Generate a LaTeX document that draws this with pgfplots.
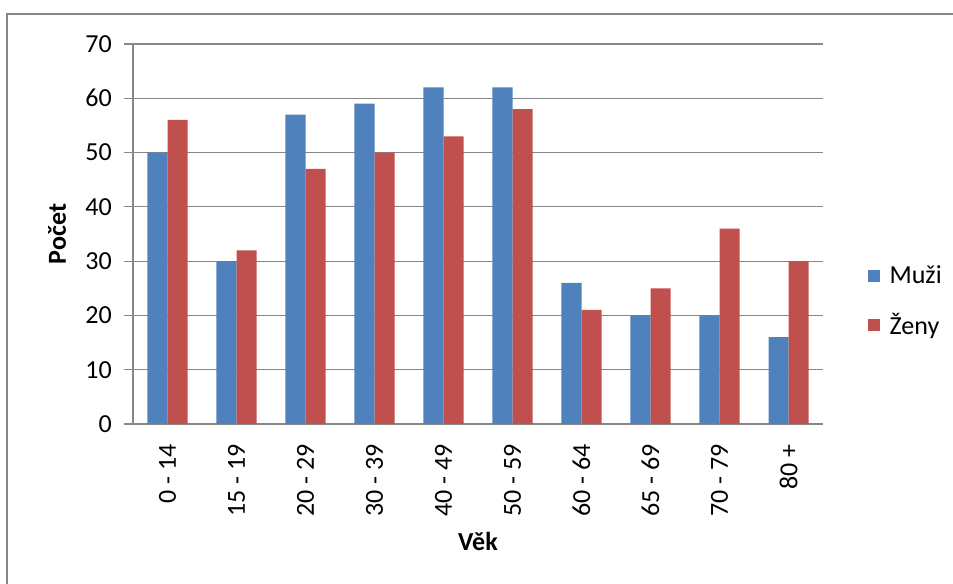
\documentclass[border=0pt]{standalone}
\usepackage{fontspec}
\setmainfont{Carlito}
\usepackage{pgfplots}
\pgfplotsset{compat=1.18}
\definecolor{muzi}{HTML}{4F81BD}
\definecolor{zeny}{HTML}{C0504D}
\definecolor{gridc}{HTML}{868686}
\newcommand{\fs}{\fontsize{19.5}{23}\selectfont}
\begin{document}
\begin{tikzpicture}
\useasboundingbox (0,0) rectangle (714.75pt,438pt);
\draw[gridc, line width=1.5pt] (5.25pt,0) -- (5.25pt,427.5pt) -- (714.75pt,427.5pt);
\begin{axis}[
  at={(99.75pt,120pt)}, anchor=south west,
  scale only axis, width=517.5pt, height=285pt,
  ybar=0pt, bar width=0.29,
  xmin=-0.5, xmax=9.5, ymin=0, ymax=70,
  xtick={0,...,9},
  xticklabels={0 - 14, 15 - 19, 20 - 29, 30 - 39, 40 - 49, 50 - 59, 60 - 64, 65 - 69, 70 - 79, 80 +},
  ytick={0,10,...,70},
  ymajorgrids, grid style={gridc, line width=0.9pt},
  axis lines*=left,
  axis line style={gridc, line width=0.9pt},
  tick align=outside,
  major tick length=6.75pt,
  ytick style={gridc, line width=0.9pt},
  xtick style={draw=none},
  /pgf/number format/assume math mode=true,
  yticklabel style={font=\fs, inner sep=0pt, xshift=-9pt},
  xticklabel style={font=\fs, rotate=90, anchor=east, inner sep=0pt, xshift=-8.25pt},
  ylabel={\textbf{Počet}},
  ylabel style={font=\fs, at={(axis description cs:-0.110,0.5)}, anchor=center},
  xlabel={\textbf{Věk}},
  xlabel style={font=\fs, at={(axis description cs:0.5,-0.308)}, anchor=center},
  legend style={draw=none, fill=none, at={(1.0652,0.3237)}, anchor=west, inner sep=0pt, font=\fs, row sep=16.5pt, nodes={inner xsep=7pt}},
  legend cell align=left,
  legend image code/.code={\fill[#1] (0pt,-4.5pt) rectangle (9pt,4.5pt);},
]
\addplot[fill=muzi, draw=none] coordinates {(0,50) (1,30) (2,57) (3,59) (4,62) (5,62) (6,26) (7,20) (8,20) (9,16)};
\addplot[fill=zeny, draw=none] coordinates {(0,56) (1,32) (2,47) (3,50) (4,53) (5,58) (6,21) (7,25) (8,36) (9,30)};
\legend{Muži, Ženy}
\end{axis}
\end{tikzpicture}
\end{document}
